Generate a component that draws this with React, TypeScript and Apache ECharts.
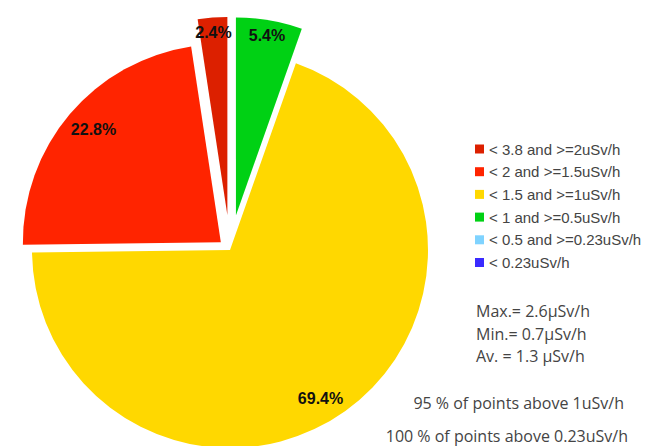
import React, { useEffect, useRef } from "react";
import * as echarts from "echarts";

// ---- data ----
const categories = [
  "< 1 and >=0.5uSv/h",
  "< 1.5 and >=1uSv/h",
  "< 2 and >=1.5uSv/h",
  "< 3.8 and >=2uSv/h",
  "< 0.5 and >=0.23uSv/h",
  "< 0.23uSv/h",
];
const shares = [5.4, 69.4, 22.8, 2.4, 0, 0];
const colors = ["#00D114", "#FFD800", "#FF2400", "#DC2000", "#7FD3FF", "#3A2BFF"];
const legendOrder = [
  "< 3.8 and >=2uSv/h",
  "< 2 and >=1.5uSv/h",
  "< 1.5 and >=1uSv/h",
  "< 1 and >=0.5uSv/h",
  "< 0.5 and >=0.23uSv/h",
  "< 0.23uSv/h",
];
const statLines = ["Max.= 2.6\u00b5Sv/h", "Min.= 0.7\u00b5Sv/h", "Av. = 1.3 \u00b5Sv/h"];
const noteLines = ["95 % of points above 1uSv/h", "100 % of points above 0.23uSv/h"];

// groups: slices pulled out by the same amount
const groups = [
  { offset: 35, members: [0, 3], labelRadius: 181, shift: [0, 1] },
  { offset: 12, members: [2], labelRadius: 164, shift: [0, -5] },
  { offset: 0, members: [1], labelRadius: 173, shift: [-12, 5] },
];

const CENTER = [230, 250];
const R = 198;

function buildSeries() {
  const out: any[] = [];
  groups.forEach((g, gi) => {
    const mk = (withLabel: boolean) =>
      categories.map((name, i) => {
        const on = g.members.includes(i);
        return {
          name,
          value: shares[i],
          selected: on && g.offset > 0,
          itemStyle: { color: withLabel ? "transparent" : on ? colors[i] : "transparent" },
          label: { show: withLabel && on && shares[i] > 0 },
        };
      });
    const common = {
      type: "pie",
      center: CENTER,
      startAngle: 90,
      clockwise: true,
      selectedMode: "multiple",
      selectedOffset: g.offset,
      avoidLabelOverlap: false,
      silent: true,
      labelLine: { show: false },
      emphasis: { disabled: true },
    };
    out.push({
      ...common,
      name: "s" + gi,
      radius: [0, R],
      label: { show: false },
      data: mk(false),
    });
    out.push({
      ...common,
      name: "l" + gi,
      radius: [2 * g.labelRadius - R, R],
      z: 5,
      labelLayout: { dx: g.shift[0], dy: g.shift[1] },
      label: {
        position: "inside",
        formatter: (p: any) => p.value + "%",
        color: "#111",
        fontWeight: "bold",
        fontSize: 16,
        fontFamily: "Liberation Sans, Arial, sans-serif",
      },
      data: mk(true),
    });
  });
  return out;
}

export default function App() {
  const ref = useRef<HTMLDivElement>(null);
  useEffect(() => {
    const chart = echarts.init(ref.current!, undefined, { renderer: "svg" });
    const textFont = "Open Sans, sans-serif";
    chart.setOption({
      animation: false,
      backgroundColor: "#ffffff",
      legend: {
        orient: "vertical",
        left: 470,
        top: 136.5,
        itemWidth: 9,
        itemHeight: 9,
        itemGap: 7.7,
        icon: "rect",
        selectedMode: false,
        textStyle: {
          color: "#444",
          fontSize: 15,
          lineHeight: 15,
          fontFamily: "Liberation Sans, Arial, sans-serif",
        },
        data: legendOrder.map((n) => ({
          name: n,
          itemStyle: { color: colors[categories.indexOf(n)] },
        })),
      },
      graphic: [
        ...statLines.map((t, i) => ({
          type: "text",
          left: 476,
          top: 303 + i * 22.7,
          style: { text: t, fill: "#444", font: `16px ${textFont}` },
        })),
        {
          type: "text",
          x: 624,
          y: 403,
          style: {
            text: noteLines[0],
            fill: "#444",
            font: `16px ${textFont}`,
            textAlign: "right",
            textVerticalAlign: "middle",
          },
        },
        {
          type: "text",
          x: 628,
          y: 436,
          style: {
            text: noteLines[1],
            fill: "#444",
            font: `16px ${textFont}`,
            textAlign: "right",
            textVerticalAlign: "middle",
          },
        },
      ],
      series: buildSeries(),
    });
    return () => chart.dispose();
  }, []);
  return (
    <div
      ref={ref}
      style={{ position: "fixed", left: 0, top: 0, width: 660, height: 446 }}
    />
  );
}
